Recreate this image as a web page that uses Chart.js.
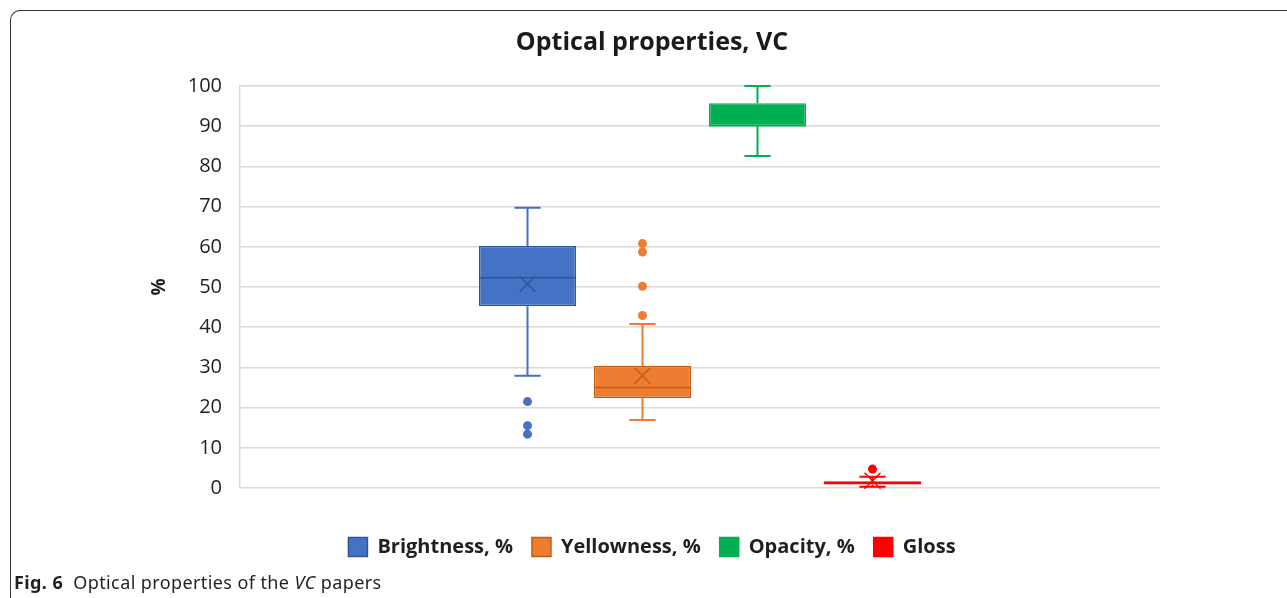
<!DOCTYPE html>
<html>
<head>
<meta charset="utf-8">
<script src="https://cdn.jsdelivr.net/npm/chart.js@4.4.1/dist/chart.umd.min.js"></script>
<style>
  body { margin: 0; background: #fff; width: 1287px; height: 598px; overflow: hidden; position: relative; }
  #frame { position: absolute; left: 10px; top: 10px; width: 1320px; height: 640px;
           border-left: 1.5px solid #333; border-top: 1.5px solid #333; border-top-left-radius: 10px; }
  #wrap { position: absolute; left: 130px; top: 12px; width: 1045px; height: 560px; }
  #caption { position: absolute; left: 14px; top: 570px; font-family: "Noto Sans", sans-serif;
             font-size: 18px; letter-spacing: 0.4px; color: #231f20; white-space: nowrap; }
</style>
</head>
<body>
<div id="frame"></div>
<div id="wrap"><canvas id="myChart"></canvas></div>
<div id="caption"><b>Fig. 6</b>&nbsp; Optical properties of the <i>VC</i> papers</div>
<script>
// box plot values
const categories = ['Brightness, %', 'Yellowness, %', 'Opacity, %', 'Gloss'];
const whiskerLow = [27.9, 16.9, 82.6, 0.3];
const q1 = [45.2, 22.4, 90.1, 0.9];
const median = [52.3, 25.0, 90.1, 1.3];
const q3 = [60.2, 30.4, 95.7, 1.7];
const whiskerHigh = [69.7, 40.8, 100, 2.8];
const means = [50.8, 27.9, null, 1.8];
const outliers = [[21.5, 15.5, 13.4], [42.9, 50.2, 58.7, 60.8], [], [4.7]];

const fills = ['#4472C4', '#ED7D31', '#00B050', '#FF0000'];
const edges = ['#2F5597', '#C55A11', '#00B050', '#FF0000'];

// whiskers, medians, means and outliers on top of the floating bars
const boxExtras = {
  id: 'boxExtras',
  afterDatasetsDraw(chart) {
    const ctx = chart.ctx;
    const y = chart.scales.y;
    categories.forEach((name, i) => {
      const bar = chart.getDatasetMeta(i).data[0];
      const cx = bar.x;
      const half = bar.width / 2;
      const cap = bar.width * 0.135;
      ctx.save();
      ctx.lineWidth = 2;
      ctx.strokeStyle = fills[i];
      ctx.beginPath();
      ctx.moveTo(cx, y.getPixelForValue(q3[i]));
      ctx.lineTo(cx, y.getPixelForValue(whiskerHigh[i]));
      ctx.moveTo(cx - cap, y.getPixelForValue(whiskerHigh[i]));
      ctx.lineTo(cx + cap, y.getPixelForValue(whiskerHigh[i]));
      ctx.moveTo(cx, y.getPixelForValue(q1[i]));
      ctx.lineTo(cx, y.getPixelForValue(whiskerLow[i]));
      ctx.moveTo(cx - cap, y.getPixelForValue(whiskerLow[i]));
      ctx.lineTo(cx + cap, y.getPixelForValue(whiskerLow[i]));
      ctx.stroke();

      ctx.strokeStyle = edges[i];
      ctx.lineWidth = 1.5;
      ctx.beginPath();
      const my = y.getPixelForValue(median[i]);
      ctx.moveTo(cx - half, my);
      ctx.lineTo(cx + half, my);
      ctx.stroke();

      if (means[i] !== null) {
        const ay = y.getPixelForValue(means[i]);
        const s = 8;
        ctx.beginPath();
        ctx.moveTo(cx - s, ay - s);
        ctx.lineTo(cx + s, ay + s);
        ctx.moveTo(cx + s, ay - s);
        ctx.lineTo(cx - s, ay + s);
        ctx.stroke();
      }

      ctx.fillStyle = fills[i];
      outliers[i].forEach(v => {
        ctx.beginPath();
        ctx.arc(cx, y.getPixelForValue(v), 4.5, 0, Math.PI * 2);
        ctx.fill();
      });
      ctx.restore();
    });
  }
};

const data = {
  labels: [''],
  datasets: categories.map((name, i) => ({
    label: name,
    data: [[q1[i], q3[i]]],
    backgroundColor: fills[i],
    borderColor: edges[i],
    borderWidth: 1.5,
    borderSkipped: false,
    barPercentage: 0.845,
    categoryPercentage: 0.5
  }))
};

const config = {
  type: 'bar',
  data: data,
  options: {
    responsive: true,
    maintainAspectRatio: false,
    animation: false,
    layout: { padding: { left: 14, right: 15, bottom: 5 } },
    scales: {
      x: {
        grid: { display: false },
        border: { display: false },
        ticks: { display: false },
        afterFit(s) { s.height = 30; }
      },
      y: {
        min: 0,
        max: 100,
        ticks: { stepSize: 10, color: '#1f1f1f', padding: 18, font: { family: 'Open Sans', size: 20 } },
        grid: { color: '#d9d9d9', lineWidth: 1.5, drawTicks: false },
        border: { display: true, color: '#d9d9d9', width: 1.5 },
        title: { display: true, text: '%', color: '#1f1f1f', font: { family: 'Open Sans', size: 19, weight: 'bold' } },
        afterFit(s) { s.width = 96; }
      }
    },
    plugins: {
      legend: {
        position: 'bottom',
        labels: {
          boxWidth: 19,
          boxHeight: 19,
          padding: 19,
          color: '#1f1f1f',
          font: { family: 'Open Sans', size: 20, weight: 'bold' }
        }
      },
      title: {
        display: true,
        text: 'Optical properties, VC',
        color: '#1a1a1a',
        padding: { top: 16, bottom: 28 },
        font: { family: 'Open Sans', size: 25, weight: 'bold' }
      },
      tooltip: { enabled: false }
    }
  },
  plugins: [boxExtras]
};

var myChart = new Chart(document.getElementById('myChart'), config);
</script>
</body>
</html>
